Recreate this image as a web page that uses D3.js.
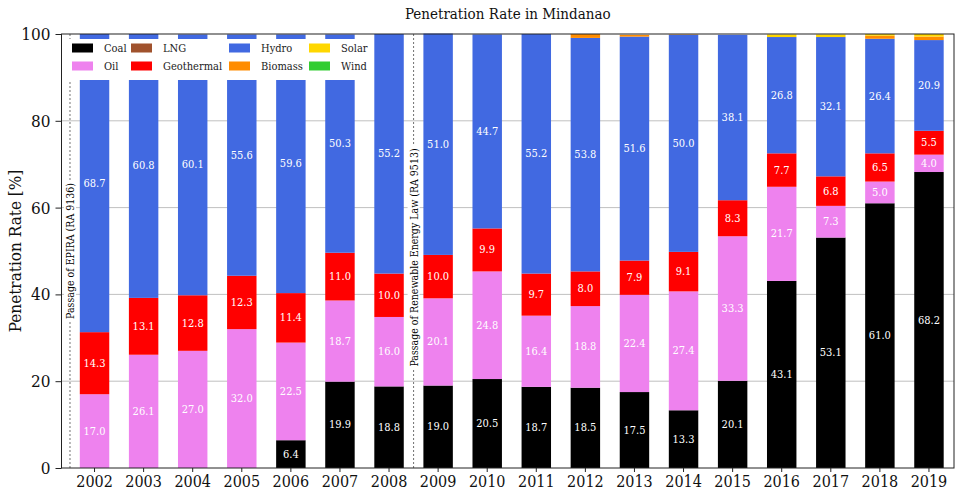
<!DOCTYPE html>
<html><head><meta charset="utf-8">
<script src="https://cdn.jsdelivr.net/npm/d3@7"></script>
<style>
body{margin:0;background:#fff;}
svg text{font-family:"DejaVu Serif Condensed","DejaVu Serif",serif;font-stretch:condensed;}
</style></head>
<body>
<svg id="c" width="960" height="498"></svg>
<script>
const years = [2002,2003,2004,2005,2006,2007,2008,2009,2010,2011,2012,2013,2014,2015,2016,2017,2018,2019];
const coal = [0,0,0,0,6.4,19.9,18.8,19.0,20.5,18.7,18.5,17.5,13.3,20.1,43.1,53.1,61.0,68.2];
const oil = [17.0,26.1,27.0,32.0,22.5,18.7,16.0,20.1,24.8,16.4,18.8,22.4,27.4,33.3,21.7,7.3,5.0,4.0];
const lng = [0,0,0,0,0,0,0,0,0,0,0,0,0,0,0,0,0,0];
const geothermal = [14.3,13.1,12.8,12.3,11.4,11.0,10.0,10.0,9.9,9.7,8.0,7.9,9.1,8.3,7.7,6.8,6.5,5.5];
const hydro = [68.7,60.8,60.1,55.6,59.6,50.3,55.2,51.0,44.7,55.2,53.8,51.6,50.0,38.1,26.8,32.1,26.4,20.9];
const biomass = [0,0,0,0,0,0,0,0,0,0,0.9,0.4,0.1,0,0,0,0.7,0.8];
const solar = [0,0,0,0,0,0,0,0,0,0,0,0,0,0,0.6,0.6,0.4,0.6];
const wind = [0,0,0,0,0,0,0,0,0,0,0,0,0,0,0,0,0,0];
const yTicks = [0,20,40,60,80,100];
const events = [
  {pos:-0.5, label:"Passage of EPIRA (RA 9136)", y:50},
  {pos:6.5, label:"Passage of Renewable Energy Law (RA 9513)", y:48.5}
];

const series = [
  {key:"Coal", vals:coal, color:"#000000", label:true},
  {key:"Oil", vals:oil, color:"#ee82ee", label:true},
  {key:"LNG", vals:lng, color:"#a0522d", label:false},
  {key:"Geothermal", vals:geothermal, color:"#ff0000", label:true},
  {key:"Hydro", vals:hydro, color:"#4169e1", label:true},
  {key:"Biomass", vals:biomass, color:"#ff8c00", label:false},
  {key:"Solar", vals:solar, color:"#ffd700", label:false},
  {key:"Wind", vals:wind, color:"#32cd32", label:false}
];

const table = years.map((yr,i)=>{const o={year:yr}; series.forEach(s=>o[s.key]=s.vals[i]); return o;});
const stack = d3.stack().keys(series.map(s=>s.key))(table);

const L=61.5, R=954, T=34, B=468;
const idx = d3.scaleLinear().domain([-0.673,17.51]).range([L,R]);
const x = d3.scaleBand().domain(years).range([idx(-0.5), idx(17.5)]).paddingInner(0.4).paddingOuter(0.2);
const y = d3.scaleLinear().domain([0,100]).range([B,T]);

const svg = d3.select("#c");

// grid
svg.append("g").selectAll("line").data(yTicks.filter(t=>t>0&&t<100)).join("line")
  .attr("x1",L).attr("x2",R).attr("y1",d=>y(d)).attr("y2",d=>y(d))
  .attr("stroke","#b0b0b0").attr("stroke-width",0.8);

// bars
const gBars = svg.append("g");
stack.forEach((layer,si)=>{
  gBars.append("g").attr("fill",series[si].color).selectAll("rect").data(layer).join("rect")
    .attr("x",d=>x(d.data.year)).attr("width",x.bandwidth())
    .attr("y",d=>y(d[1])).attr("height",d=>Math.max(0,y(d[0])-y(d[1])));
});
// labels
stack.forEach((layer,si)=>{
  if(!series[si].label) return;
  gBars.append("g").selectAll("text").data(layer.filter(d=>d[1]-d[0]>0)).join("text")
    .attr("x",d=>x(d.data.year)+x.bandwidth()/2).attr("y",d=>y((d[0]+d[1])/2))
    .attr("text-anchor","middle").attr("dominant-baseline","central")
    .attr("fill","#fff").attr("font-size",11)
    .text(d=>(d[1]-d[0]).toFixed(1));
});

// event lines
events.forEach(e=>{
  const ex = idx(e.pos);
  svg.append("line").attr("x1",ex).attr("x2",ex).attr("y1",T).attr("y2",B)
    .attr("stroke","#333").attr("stroke-width",0.7).attr("stroke-dasharray","2,2");
  const t = svg.append("text").attr("transform",`translate(${ex},${y(e.y)}) rotate(-90)`)
    .attr("text-anchor","middle").attr("dominant-baseline","central")
    .attr("font-size",10.5).attr("fill","#000").text(e.label);
  const bb = t.node().getBBox();
  svg.insert("rect", () => t.node()).attr("transform",`translate(${ex},${y(e.y)}) rotate(-90)`)
    .attr("x",bb.x-3).attr("y",bb.y).attr("width",bb.width+6).attr("height",bb.height)
    .attr("fill","#fff");
});

// legend
const lg = svg.append("g");
lg.append("rect").attr("x",66).attr("y",39).attr("width",305).attr("height",41).attr("fill","#fff");
const colX = [72,131,229,309];
const rowY = [48,66];
series.forEach((s,i)=>{
  const c = Math.floor(i/2), r = i%2;
  lg.append("rect").attr("x",colX[c]).attr("y",rowY[r]-4.5).attr("width",21).attr("height",9).attr("fill",s.color);
  lg.append("text").attr("x",colX[c]+32).attr("y",rowY[r]).attr("dominant-baseline","central")
    .attr("font-size",11).attr("fill","#222").text(s.key);
});

// axes
const yAxis = svg.append("g").attr("transform",`translate(${L},0)`)
  .call(d3.axisLeft(y).tickValues(yTicks).tickSize(6).tickPadding(5).tickFormat(d3.format("d")));
yAxis.select(".domain").remove();
yAxis.selectAll("text").attr("font-size",17).attr("fill","#111").style("font-family",'"DejaVu Serif Condensed","DejaVu Serif",serif');
yAxis.selectAll("line").attr("stroke","#222");

const xAxis = svg.append("g").attr("transform",`translate(0,${B})`)
  .call(d3.axisBottom(x).tickSize(4).tickPadding(4).tickFormat(d3.format("d")));
xAxis.select(".domain").remove();
xAxis.selectAll("text").attr("font-size",16).attr("fill","#111").style("font-family",'"DejaVu Serif Condensed","DejaVu Serif",serif');
xAxis.selectAll("line").attr("stroke","#222");

// frame
svg.append("rect").attr("x",L).attr("y",T).attr("width",R-L).attr("height",B-T)
  .attr("fill","none").attr("stroke","#222").attr("stroke-width",1);

// titles
svg.append("text").attr("x",(L+R)/2).attr("y",19).attr("text-anchor","middle")
  .attr("font-size",15).attr("fill","#111").text("Penetration Rate in Mindanao");
svg.append("text").attr("transform",`translate(15,${(T+B)/2}) rotate(-90)`).attr("text-anchor","middle")
  .attr("dominant-baseline","central").attr("font-size",17).attr("fill","#111").text("Penetration Rate [%]");
</script>
</body></html>
